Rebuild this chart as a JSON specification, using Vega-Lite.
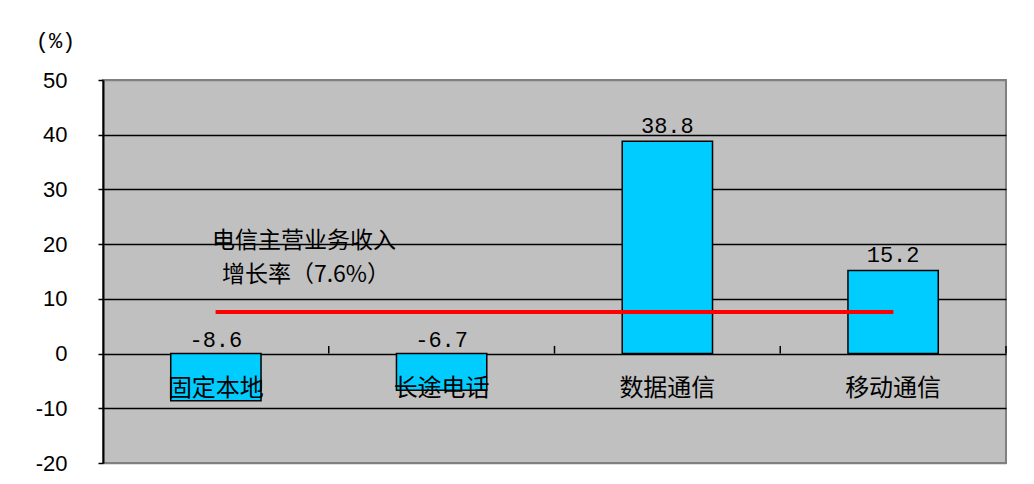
{
  "$schema": "https://vega.github.io/schema/vega-lite/v6.json",
  "width": 903,
  "height": 383,
  "autosize": "none",
  "padding": {"left": 103, "top": 80, "right": 28, "bottom": 21},
  "background": "white",
  "config": {
    "view": {"fill": "#C0C0C0", "stroke": "#808080", "strokeWidth": 2},
    "locale": {"number": {"decimal": ".", "thousands": ",", "grouping": [3], "currency": ["$", ""], "minus": "-"}}
  },
  "data": {"values": [
    {"cat": "固定本地", "value": -8.6},
    {"cat": "长途电话", "value": -6.7},
    {"cat": "数据通信", "value": 38.8},
    {"cat": "移动通信", "value": 15.2}
  ]},
  "encoding": {
    "x": {"field": "cat", "type": "nominal", "sort": null, "scale": {"paddingInner": 0, "paddingOuter": 0}, "axis": null}
  },
  "layer": [
    {
      "mark": {"type": "bar", "width": {"band": 0.4}, "fill": "#00CCFF", "stroke": "#000000", "strokeWidth": 1.5},
      "encoding": {
        "y": {
          "field": "value", "type": "quantitative",
          "scale": {"domain": [-20, 50], "nice": false, "zero": false},
          "axis": {
            "values": [-20, -10, 0, 10, 20, 30, 40, 50],
            "grid": true,
            "gridColor": {"condition": {"test": "datum.value == 50 || datum.value == -20", "value": "#808080"}, "value": "#000000"},
            "gridWidth": 1.5,
            "gridOpacity": 1,
            "domainColor": "#000000",
            "domainWidth": 2,
            "tickColor": "#000000",
            "tickSize": 5,
            "tickWidth": 1.5,
            "labelFont": "Liberation Sans",
            "labelFontSize": 22,
            "labelColor": "#000000",
            "labelPadding": 31,
            "title": "(%)",
            "titleAngle": 0,
            "titleX": -48,
            "titleY": -40,
            "titleAlign": "center",
            "titleBaseline": "middle",
            "titleFont": "Liberation Mono",
            "titleFontSize": 22,
            "titleFontWeight": "normal",
            "titleColor": "#000000"
          }
        }
      }
    },
    {
      "mark": {"type": "rule", "color": "#000000", "strokeWidth": 1.5},
      "encoding": {
        "x": {"field": "cat", "type": "nominal", "sort": null, "bandPosition": 1},
        "y": {"datum": 0},
        "y2": {"datum": 1.4}
      }
    },
    {
      "mark": {"type": "rule", "color": "#FF0000", "strokeWidth": 4},
      "encoding": {
        "x": {"datum": "固定本地"},
        "x2": {"datum": "移动通信"},
        "y": {"datum": 7.6}
      }
    },
    {
      "transform": [{"filter": "datum.value >= 0"}],
      "mark": {"type": "text", "baseline": "bottom", "dy": -3, "font": "Liberation Mono", "fontSize": 22, "color": "#000000"},
      "encoding": {
        "y": {"field": "value", "type": "quantitative"},
        "text": {"field": "value", "type": "quantitative", "format": ".1f"}
      }
    },
    {
      "transform": [{"filter": "datum.value < 0"}],
      "mark": {"type": "text", "baseline": "bottom", "dy": -2, "font": "Liberation Mono", "fontSize": 22, "color": "#000000"},
      "encoding": {
        "y": {"datum": 0},
        "text": {"field": "value", "type": "quantitative", "format": ".1f"}
      }
    },
    {
      "mark": {"type": "text", "baseline": "middle", "font": "Noto Sans CJK SC", "fontSize": 24, "color": "#000000"},
      "encoding": {
        "y": {"datum": -6.4},
        "text": {"field": "cat", "type": "nominal"}
      }
    },
    {
      "data": {"values": [{}]},
      "mark": {"type": "text", "align": "left", "baseline": "middle", "dx": -4, "font": "Noto Sans CJK SC", "fontSize": 23, "color": "#000000", "text": "电信主营业务收入"},
      "encoding": {
        "x": {"datum": "固定本地"},
        "y": {"datum": 20.5}
      }
    },
    {
      "data": {"values": [{}]},
      "mark": {"type": "text", "align": "left", "baseline": "middle", "dx": 6, "font": "Noto Sans CJK SC", "fontSize": 23, "color": "#000000", "text": "增长率（7.6%）"},
      "encoding": {
        "x": {"datum": "固定本地"},
        "y": {"datum": 14.3}
      }
    }
  ]
}
